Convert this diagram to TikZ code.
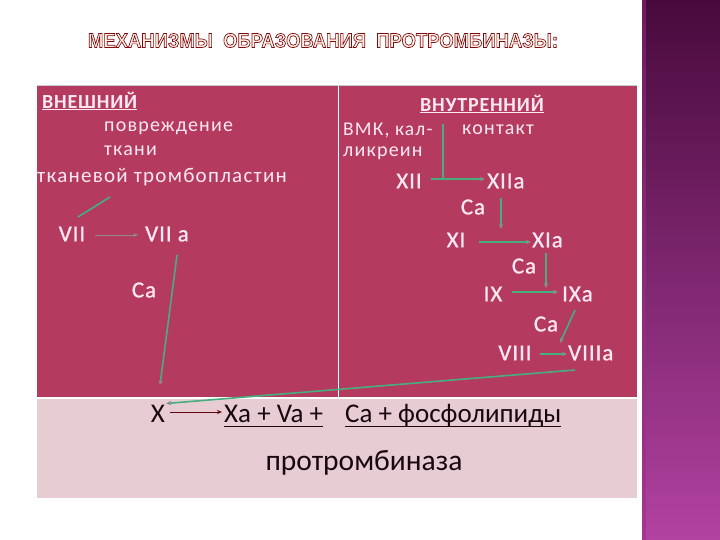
\documentclass[tikz,border=0pt]{standalone}
\usepackage{fontspec}
\setmainfont{Carlito}
\newfontfamily\titlefont{Liberation Sans}
\usetikzlibrary{arrows.meta}
\definecolor{crim}{RGB}{180,58,96}
\definecolor{lpink}{RGB}{231,204,212}
\definecolor{tp}{RGB}{252,232,240}
\definecolor{gl}{RGB}{70,175,125}
\definecolor{gtip}{RGB}{140,140,140}
\definecolor{dk}{RGB}{25,8,14}
\definecolor{barT}{RGB}{72,10,60}
\definecolor{barB}{RGB}{178,66,160}
\newsavebox{\myulbox}
\newcommand{\ulx}[1]{\sbox{\myulbox}{#1}\rlap{\rule[-5pt]{\wd\myulbox}{1.3pt}}\usebox{\myulbox}}
\tikzset{
  up/.style={inner sep=0pt, text=tp, font=\fontsize{20}{24}\selectfont\addfontfeature{LetterSpace=6}},
  fac/.style={inner sep=0pt, text=tp, font=\fontsize{23}{27}\selectfont\addfontfeature{LetterSpace=4,FakeBold=0.8}},
  upb/.style={inner sep=0pt, text=tp, font=\fontsize{20}{24}\selectfont\bfseries\addfontfeature{LetterSpace=4}},
  bt/.style={inner sep=0pt, text=dk, font=\fontsize{27}{32}\selectfont},
  gline/.style={draw=gl, line width=1.6pt},
  garrow/.style={gline, -{Stealth[length=5pt,width=4.5pt,color=gtip]}},
  grayarrow/.style={draw=gtip, line width=1pt, -{Stealth[length=5pt,width=4pt]}},
  darrow/.style={draw=dk!70!red, line width=1pt, -{Stealth[length=5pt,width=4pt]}}
}
\begin{document}
\begin{tikzpicture}[x=1pt,y=-1pt]
\useasboundingbox (0,0) rectangle (720,540);
\fill[white] (0,0) rectangle (720,540);
% right bar
\shade[top color=barT, bottom color=barB] (642,0) rectangle (720,540);
\fill[barB!70!barT, opacity=0.5] (642,0) rectangle (646,540);
% table
\fill[crim] (37,85) rectangle (637,397);
\fill[lpink] (37,399) rectangle (637,498);
\draw[white, line width=1pt] (338,85) -- (338,397);
\draw[gray!40, line width=0.6pt] (37,85) -- (637,85);
% title
\node[inner sep=0pt] (title) at (323,40.5) {\resizebox{470pt}{14pt}{\titlefont\bfseries\special{pdf:literal 1 0.95 0.88 rg 0.5 0.04 0.08 RG 0.35 w 2 Tr}МЕХАНИЗМЫ\ \ ОБРАЗОВАНИЯ\ \ ПРОТРОМБИНАЗЫ:\special{pdf:literal 0 Tr}}};
% left column
\node[upb, anchor=west] (ext) at (42,101) {\underline{ВНЕШНИЙ}};
\node[up, anchor=west] (povr) at (104,128) {повреждение};
\node[up, anchor=west] (tkani) at (104,151) {ткани};
\node[up, anchor=west, font=\fontsize{21}{24}\selectfont\addfontfeature{LetterSpace=6}] (tromb) at (37,177) {тканевой тромбопластин};
\node[fac] (VII) at (72,234) {VII};
\node[fac, anchor=west] (VIIa) at (145,234) {VII a};
\node[fac] (ca1) at (144,290) {Ca};
\coordinate (tpA) at (110,197);
\coordinate (tpB) at (78,217);
\draw[gline] (tpA) -- (tpB);
\draw[grayarrow] ([xshift=10pt,yshift=-1pt]VII.east) -- ([xshift=-7pt,yshift=-1pt]VIIa.west);
\coordinate (L1s) at (177,255);
\coordinate (L1e) at (160,385);
\draw[garrow] (L1s) -- (L1e);
% right column
\node[upb] (int) at (482,104) {\underline{ВНУТРЕННИЙ}};
\node[up, anchor=west, font=\fontsize{19.5}{24}\selectfont\addfontfeature{LetterSpace=6}] (vmk) at (343,130) {ВМК, кал-};
\node[up, anchor=west] (likr) at (343,153) {ликреин};
\node[up, anchor=west] (kont) at (462,130) {контакт};
\node[fac] (XII) at (409,181) {XII};
\node[fac, anchor=west] (XIIa) at (487,181) {XIIa};
\coordinate (k1) at (443,124);
\coordinate (k2) at (443,178);
\draw[gline] (k1) -- (k2);
\draw[garrow] ([xshift=9pt,yshift=2pt]XII.east) -- ([xshift=-2pt,yshift=2pt]XIIa.west);
\node[fac] (ca2) at (473,207) {Ca};
\node[fac] (XI) at (456,240) {XI};
\node[fac, anchor=west] (XIa) at (532,240) {XIa};
\coordinate (c2s) at (501,198);
\coordinate (c2e) at (501,229);
\draw[garrow] (c2s) -- (c2e);
\draw[garrow] ([xshift=13pt,yshift=-2pt]XI.east) -- ([xshift=-1pt,yshift=-2pt]XIa.west);
\node[fac] (ca3) at (524,266) {Ca};
\node[fac] (IX) at (493,294) {IX};
\node[fac, anchor=west] (IXa) at (562,294) {IXa};
\coordinate (c3s) at (546,253);
\coordinate (c3e) at (546,288);
\draw[garrow] (c3s) -- (c3e);
\draw[garrow] ([xshift=9pt,yshift=2pt]IX.east) -- ([xshift=-4pt,yshift=2pt]IXa.west);
\node[fac] (ca4) at (546,324) {Ca};
\node[fac] (VIII) at (515,353) {VIII};
\node[fac, anchor=west] (VIIIa) at (568,353) {VIIIa};
\coordinate (c4s) at (575,310);
\coordinate (c4e) at (560,343);
\draw[garrow] (c4s) -- (c4e);
\draw[garrow] ([xshift=8pt,yshift=-1pt]VIII.east) -- ([xshift=-1pt,yshift=-1pt]VIIIa.west);
\coordinate (L2s) at (575,370);
% bottom
\node[bt, anchor=base] (X) at (158,422) {X};
\node[bt, anchor=base west] (XaVa) at (224,422) {\ulx{Xa + Va +}};
\node[bt, anchor=base west] (Caf) at (345,422) {\ulx{Ca + фосфолипиды}};
\node[inner sep=0pt, text=dk, font=\fontsize{29.5}{34}\selectfont] (prot) at (364,463) {протромбиназа};
\draw[darrow] ([xshift=5pt,yshift=10pt]X.base east) -- ([xshift=-2pt,yshift=10pt]XaVa.base west);
\draw[garrow] (L2s) -- ([xshift=1pt,yshift=1pt]X.north east);
\end{tikzpicture}
\end{document}
